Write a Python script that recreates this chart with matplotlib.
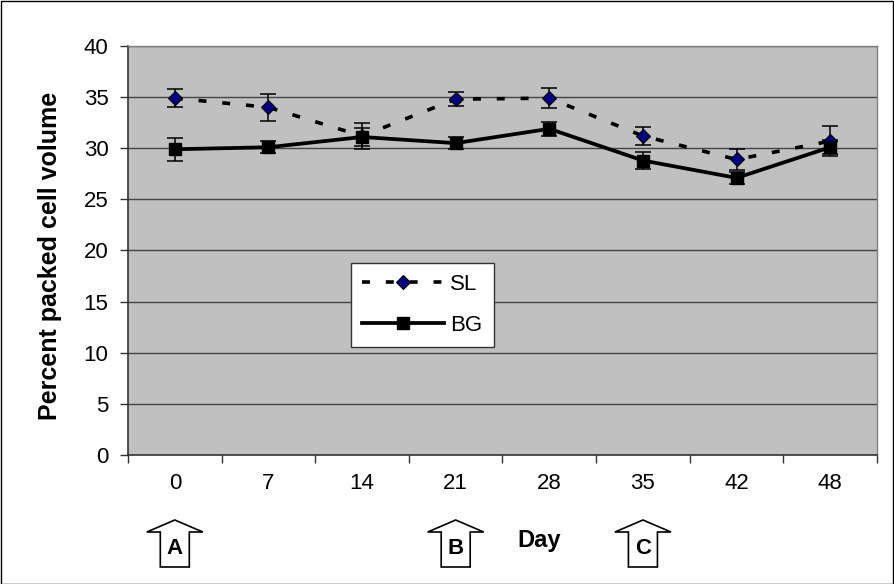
import matplotlib
matplotlib.use("Agg")
import matplotlib.pyplot as plt
from matplotlib.patches import Polygon, Rectangle
from matplotlib.transforms import IdentityTransform

plt.rcParams['font.family'] = ['Liberation Sans', 'DejaVu Sans']

# data
days = ['0', '7', '14', '21', '28', '35', '42', '48']
sl = [34.9, 34.0, 31.2, 34.8, 34.9, 31.2, 28.9, 30.7]
sl_err = [0.9, 1.3, 1.3, 0.7, 1.0, 0.9, 1.0, 1.5]
bg = [29.9, 30.1, 31.1, 30.5, 31.9, 28.8, 27.1, 30.1]
bg_err = [1.1, 0.6, 0.9, 0.6, 0.7, 0.8, 0.6, 0.7]

# treatment markers under the x axis
arrow_labels = ['A', 'B', 'C']
arrow_days = ['0', '21', '35']

W, H = 894, 584
fig = plt.figure(figsize=(W / 100, H / 100), dpi=100)
ax = fig.add_axes([128 / W, 1 - 455 / H, 749 / W, 409 / H])
ax.set_facecolor('#C0C0C0')

x = list(range(len(days)))

# error bars first, then the lines with markers
ax.errorbar(x, sl, yerr=sl_err, fmt='none', ecolor='black', elinewidth=1.1,
            capsize=5.5, capthick=1.1, zorder=3)
ax.errorbar(x, bg, yerr=bg_err, fmt='none', ecolor='black', elinewidth=1.1,
            capsize=5.5, capthick=1.1, zorder=3)
ax.plot(x, sl, color='black', linestyle=(0, (2.2, 4.4)), linewidth=2.6,
        marker='D', markersize=7.5, markerfacecolor='#000080', markeredgecolor='black',
        markeredgewidth=0.8, label='SL', zorder=4)
ax.plot(x, bg, color='black', linestyle='-', linewidth=2.7,
        marker='s', markersize=8.5, markerfacecolor='black', markeredgecolor='black',
        label='BG', zorder=5)

ax.set_ylim(0, 40)
ax.set_yticks(range(0, 41, 5))
ax.yaxis.grid(True, color='#444444', linewidth=1)
ax.set_axisbelow(True)

ax.set_xlim(-0.5, len(days) - 0.5)
ax.set_xticks([i - 0.5 for i in range(len(days) + 1)])
ax.set_xticklabels([])
ax.set_xticks(x, minor=True)
ax.set_xticklabels(days, minor=True)
ax.tick_params(axis='x', which='major', direction='out', length=6, width=1, color='#333333')
ax.tick_params(axis='x', which='minor', length=0, pad=13, labelsize=16)
ax.tick_params(axis='y', direction='out', length=6, width=1, color='#333333', labelsize=16, pad=8)

for s in ['top', 'right']:
    ax.spines[s].set_color('#808080')
    ax.spines[s].set_linewidth(1)
for s in ['left', 'bottom']:
    ax.spines[s].set_color('#333333')
    ax.spines[s].set_linewidth(1.2)

ax.set_ylabel('Percent packed cell volume', fontsize=18, fontweight='bold')
ax.yaxis.set_label_coords(-0.088, 0.487)

leg = ax.legend(loc='upper left', bbox_to_anchor=((351 - 128) / 749, (455 - 263) / 409),
                borderaxespad=0, fontsize=16, frameon=True, fancybox=False,
                framealpha=1, edgecolor='#333333', handlelength=3.7,
                handletextpad=0.27, labelspacing=0.9, borderpad=0.5)
leg.get_frame().set_linewidth(1)

# x axis title
fig.text(539 / W, 1 - 541 / H, 'Day', fontsize=17, fontweight='bold', ha='center', va='center')

# block arrows
for lab, d in zip(arrow_labels, arrow_days):
    cx = ax.transData.transform((days.index(d), 0))[0]
    top, base, bottom = H - 520, H - 532, H - 567
    pts = [(cx, top), (cx + 28, base), (cx + 14.5, base), (cx + 14.5, bottom),
           (cx - 14.5, bottom), (cx - 14.5, base), (cx - 28, base)]
    fig.add_artist(Polygon(pts, closed=True, facecolor='white', edgecolor='black',
                           linewidth=1.2, transform=IdentityTransform()))
    fig.text(cx / W, 1 - 549 / H, lab, fontsize=16, fontweight='bold', ha='center', va='center')

# outer frame
fig.add_artist(Rectangle((0.5, 0.5), W - 1.5, H - 1.5, fill=False, edgecolor='black',
                         linewidth=1, transform=IdentityTransform()))

fig.savefig('out.png', dpi=100)
